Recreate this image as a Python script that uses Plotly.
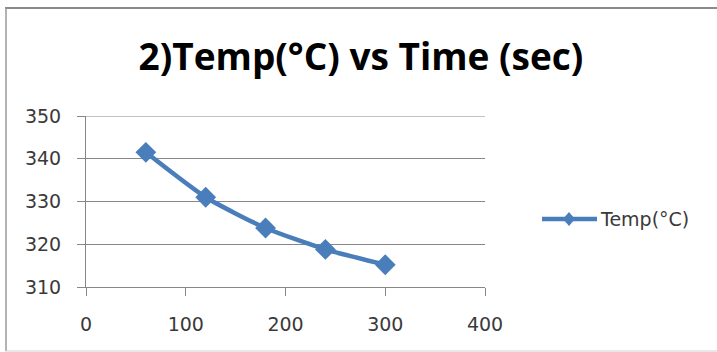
import plotly.graph_objects as go

# Time (sec) and measured temperature (°C)
time_sec = [60, 120, 180, 240, 300]
temp_c = [341.5, 331.0, 323.8, 318.8, 315.2]

x_ticks = [0, 100, 200, 300, 400]
y_ticks = [310, 320, 330, 340, 350]

series_name = "Temp(°C)"
title_text = "2)Temp(°C) vs Time (sec)"

W, H = 717, 352
ML, MR, MT, MB = 86, 232, 116, 65
pw, ph = W - ML - MR, H - MT - MB


def px_x(p):
    return (p - ML) / pw


def px_y(p):
    return (H - MB - p) / ph


blue = "#4a7ebb"
axis_col = "#878787"
text_col = "#3a3a3a"
tick_font = dict(family="DejaVu Sans, Open Sans", size=19, color=text_col)

fig = go.Figure()
fig.add_trace(go.Scatter(
    x=time_sec, y=temp_c, name=series_name,
    mode="lines+markers",
    line=dict(color=blue, width=4.5, shape="spline", smoothing=0.6),
    marker=dict(symbol="diamond", size=16, color=blue),
    showlegend=False,
))

# legend entry: line sample with diamond, then the series name
lx0, lx1, ly = 542, 597, 219
dm = 569
shapes = [
    dict(type="line", xref="paper", yref="paper", x0=px_x(lx0), x1=px_x(lx1),
         y0=px_y(ly), y1=px_y(ly), line=dict(color=blue, width=4.5)),
    dict(type="path", xref="paper", yref="paper",
         path=(f"M {px_x(dm - 6)},{px_y(ly)} L {px_x(dm)},{px_y(ly - 7)} "
               f"L {px_x(dm + 6)},{px_y(ly)} L {px_x(dm)},{px_y(ly + 7)} Z"),
         fillcolor=blue, line=dict(color=blue, width=0)),
    # top gridline at the upper end of the value range
    dict(type="line", xref="paper", yref="y", x0=0, x1=1, y0=350, y1=350,
         line=dict(color=axis_col, width=1), layer="below"),
    # chart-area border
    dict(type="line", xref="paper", yref="paper", x0=px_x(5), x1=px_x(717),
         y0=px_y(8), y1=px_y(8), line=dict(color="#8a8a8a", width=2)),
    dict(type="line", xref="paper", yref="paper", x0=px_x(6), x1=px_x(6),
         y0=px_y(8), y1=px_y(351), line=dict(color="#9a9a9a", width=1.5)),
    dict(type="line", xref="paper", yref="paper", x0=px_x(5), x1=px_x(717),
         y0=px_y(351), y1=px_y(351), line=dict(color="#d0d0d0", width=1)),
]

fig.update_layout(
    width=W, height=H,
    margin=dict(l=ML, r=MR, t=MT, b=MB, autoexpand=False),
    paper_bgcolor="white", plot_bgcolor="white",
    title=dict(text="<b>" + title_text + "</b>", x=361 / W,
               xanchor="center", y=1 - 57 / H, yanchor="middle",
               font=dict(family="Open Sans, DejaVu Sans", size=37, color="black")),
    xaxis=dict(range=[0, 400], tickvals=x_ticks, showgrid=False, zeroline=False,
               showline=True, linecolor=axis_col, linewidth=1,
               ticks="outside", ticklen=8, tickcolor=axis_col,
               ticklabelstandoff=12, tickfont=tick_font, fixedrange=True),
    yaxis=dict(range=[310, 350], tickvals=y_ticks, showgrid=True, gridcolor=axis_col,
               gridwidth=1, zeroline=False, showline=True, linecolor=axis_col,
               ticks="outside", ticklen=8, tickcolor=axis_col,
               ticklabelstandoff=12, tickfont=tick_font, fixedrange=True),
    showlegend=False,
    annotations=[
        dict(text=series_name, xref="paper", yref="paper", x=px_x(lx1 + 1),
             y=px_y(ly), xanchor="left", yanchor="middle", showarrow=False,
             font=dict(family="DejaVu Sans, Open Sans", size=19, color=text_col)),
    ],
    shapes=shapes,
)

fig.write_html("out.html")
